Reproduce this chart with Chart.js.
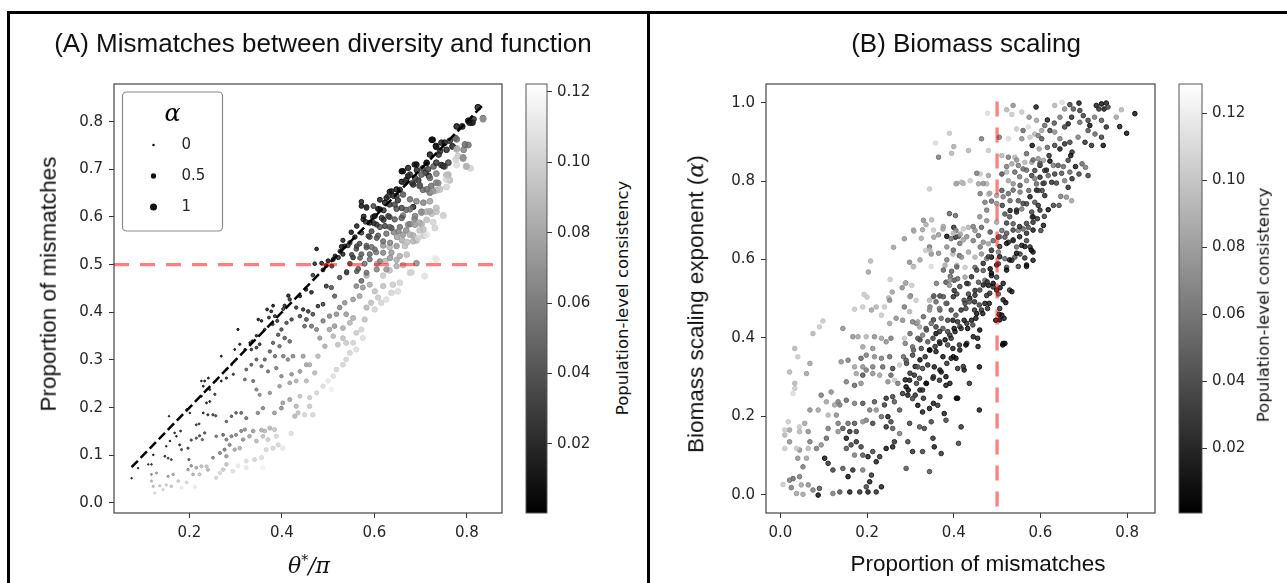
<!DOCTYPE html>
<html>
<head>
<meta charset="utf-8">
<title>Mismatches between diversity and function / Biomass scaling</title>
<style>
  html, body { margin: 0; padding: 0; background: #fff; }
  #fig { position: relative; width: 1287px; height: 583px; overflow: hidden; background: #fff;
         font-family: "Liberation Sans", Arial, sans-serif; color: #111; }
  .rule { position: absolute; background: #000; }
  canvas { position: absolute; top: 0; }
  .txt { position: absolute; white-space: nowrap; line-height: 1; transform: translate(-50%, -50%); }
  .rot { transform: translate(-50%, -50%) rotate(-90deg); }
  .title { font-size: 26px; }
  .axis { font-size: 22.5px; }
  .cbar { font-family: "DejaVu Sans", sans-serif; font-size: 16.5px; }
  .math { font-family: "DejaVu Serif", serif; font-style: italic; }
</style>
</head>
<body>
<div id="fig">
  <div class="rule" style="left:7px;top:11px;width:1280px;height:3px"></div>
  <div class="rule" style="left:7px;top:11px;width:3px;height:572px"></div>
  <div class="rule" style="left:647px;top:11px;width:3px;height:572px"></div>

  <canvas id="chartA" width="510" height="583" style="left:0"></canvas>
  <canvas id="cbarA" width="100" height="583" style="left:510px"></canvas>
  <canvas id="chartB" width="515" height="583" style="left:650px"></canvas>
  <canvas id="cbarB" width="110" height="583" style="left:1160px"></canvas>

  <div class="txt title" style="left:323px;top:43px">(A) Mismatches between diversity and function</div>
  <div class="txt title" style="left:966px;top:43px">(B) Biomass scaling</div>
  <div class="txt axis rot" style="left:49px;top:284px">Proportion of mismatches</div>
  <div class="txt axis math" style="left:309px;top:565px;font-size:22px">θ<sup style="font-size:14px;font-style:normal">*</sup>/π</div>
  <div class="txt cbar rot" style="left:623px;top:298px">Population-level consistency</div>
  <div class="txt axis rot" style="left:696px;top:304px">Biomass scaling exponent (<span class="math">α</span>)</div>
  <div class="txt axis" style="left:978px;top:564px">Proportion of mismatches</div>
  <div class="txt cbar rot" style="left:1264px;top:305px">Population-level consistency</div>
</div>

<script src="https://cdn.jsdelivr.net/npm/chart.js"></script>
<script>
// ---- data ----
// panel A: [theta*/pi, proportion of mismatches, alpha, population-level consistency]
const pointsA = [
  [0.824,0.830,1.0,0.01],[0.835,0.807,1.0,0.05],[0.812,0.798,0.95,0.005],[0.803,0.802,0.9,0.01],[0.778,0.790,0.9,0.005],
  [0.790,0.790,0.95,0.01],[0.775,0.766,0.9,0.04],[0.803,0.751,1.0,0.055],[0.793,0.741,0.95,0.06],[0.778,0.744,0.95,0.08],
  [0.781,0.728,1.0,0.095],[0.792,0.723,1.0,0.06],[0.778,0.709,1.0,0.105],[0.799,0.706,1.0,0.09],[0.808,0.702,1.0,0.1],
  [0.726,0.762,0.9,0.005],[0.745,0.756,0.85,0.01],[0.734,0.747,0.9,0.01],[0.720,0.731,0.85,0.005],[0.739,0.731,0.9,0.02],
  [0.756,0.741,0.9,0.015],[0.769,0.748,0.95,0.01],[0.713,0.713,0.8,0.01],[0.687,0.710,0.8,0.01],[0.692,0.698,0.85,0.015],
  [0.704,0.702,0.85,0.03],[0.711,0.693,0.85,0.02],[0.662,0.696,0.8,0.01],[0.673,0.686,0.8,0.01],[0.659,0.674,0.75,0.005],
  [0.669,0.678,0.8,0.01],[0.682,0.671,0.85,0.03],[0.695,0.677,0.85,0.02],[0.718,0.686,0.9,0.02],[0.728,0.706,0.9,0.04],
  [0.745,0.709,0.9,0.02],[0.752,0.706,0.95,0.05],[0.734,0.691,0.95,0.06],[0.756,0.688,1.0,0.085],[0.763,0.677,1.0,0.09],
  [0.756,0.663,1.0,0.1],[0.738,0.671,0.95,0.065],[0.723,0.665,0.9,0.05],[0.734,0.656,1.0,0.085],[0.720,0.651,0.9,0.055],
  [0.705,0.657,0.9,0.05],[0.698,0.667,0.85,0.04],[0.633,0.653,0.75,0.01],[0.642,0.644,0.75,0.015],[0.655,0.657,0.8,0.01],
  [0.651,0.635,0.8,0.02],[0.626,0.640,0.7,0.01],[0.612,0.636,0.7,0.01],[0.572,0.632,0.6,0.01],[0.583,0.621,0.65,0.015],
  [0.608,0.617,0.7,0.005],[0.620,0.614,0.75,0.02],[0.633,0.626,0.75,0.02],[0.648,0.617,0.8,0.035],[0.669,0.615,0.85,0.045],
  [0.662,0.603,0.85,0.055],[0.684,0.621,0.8,0.015],[0.702,0.611,0.9,0.05],[0.713,0.611,0.95,0.08],[0.724,0.607,0.95,0.09],
  [0.734,0.611,1.0,0.09],[0.749,0.603,1.0,0.1],[0.727,0.589,1.0,0.1],[0.713,0.594,0.95,0.09],[0.702,0.585,0.95,0.085],
  [0.687,0.596,0.9,0.06],[0.677,0.585,0.9,0.06],[0.669,0.572,0.9,0.065],[0.684,0.561,0.95,0.08],[0.698,0.572,0.95,0.09],
  [0.707,0.561,1.0,0.095],[0.691,0.551,0.95,0.085],[0.577,0.601,0.65,0.01],[0.581,0.590,0.65,0.02],[0.597,0.600,0.7,0.02],
  [0.599,0.587,0.7,0.015],[0.620,0.594,0.75,0.02],[0.633,0.600,0.75,0.03],[0.612,0.579,0.75,0.035],[0.633,0.579,0.8,0.05],
  [0.642,0.568,0.85,0.06],[0.655,0.579,0.8,0.05],[0.649,0.558,0.9,0.075],[0.660,0.551,0.9,0.08],[0.671,0.547,0.95,0.09],
  [0.626,0.565,0.8,0.05],[0.608,0.561,0.75,0.04],[0.590,0.558,0.7,0.035],[0.594,0.570,0.7,0.03],[0.550,0.568,0.55,0.005],
  [0.558,0.558,0.55,0.01],[0.532,0.551,0.5,0.01],[0.529,0.538,0.5,0.005],[0.543,0.540,0.55,0.02],[0.568,0.544,0.65,0.03],
  [0.583,0.540,0.7,0.045],[0.561,0.533,0.6,0.03],[0.594,0.537,0.75,0.05],[0.619,0.540,0.85,0.07],[0.633,0.537,0.9,0.085],
  [0.604,0.526,0.75,0.055],[0.590,0.522,0.7,0.045],[0.572,0.522,0.65,0.04],[0.554,0.515,0.6,0.02],[0.532,0.522,0.5,0.01],
  [0.522,0.515,0.5,0.015],[0.511,0.511,0.45,0.01],[0.500,0.508,0.45,0.005],[0.496,0.498,0.4,0.01],[0.475,0.533,0.35,0.005],
  [0.486,0.503,0.4,0.01],[0.489,0.489,0.4,0.015],[0.471,0.502,0.35,0.01],[0.467,0.478,0.35,0.02],[0.547,0.502,0.6,0.03],
  [0.579,0.502,0.7,0.05],[0.565,0.491,0.65,0.04],[0.606,0.502,0.8,0.08],[0.624,0.508,0.85,0.085],[0.633,0.488,0.9,0.09],
  [0.619,0.477,0.85,0.095],[0.583,0.477,0.8,0.08],[0.680,0.484,0.95,0.1],[0.731,0.514,1.0,0.115],[0.709,0.476,1.0,0.105],
  [0.662,0.499,0.9,0.09],[0.691,0.503,0.9,0.065],[0.648,0.510,0.85,0.08],[0.525,0.473,0.55,0.035],[0.540,0.485,0.55,0.03],
  [0.572,0.466,0.65,0.045],
  [0.724,0.762,0.9,0.005],[0.733,0.749,0.9,0.01],[0.742,0.738,0.9,0.02],[0.752,0.756,0.9,0.01],[0.763,0.760,0.9,0.02],
  [0.778,0.763,0.95,0.05],[0.796,0.752,1.0,0.05],[0.778,0.742,1.0,0.085],[0.792,0.725,1.0,0.07],[0.799,0.706,1.0,0.085],
  [0.776,0.721,1.0,0.1],[0.760,0.714,0.95,0.03],[0.749,0.707,0.95,0.02],[0.734,0.714,0.9,0.02],[0.716,0.700,0.9,0.03],
  [0.713,0.714,0.85,0.01],[0.691,0.710,0.85,0.005],[0.673,0.703,0.8,0.01],[0.659,0.696,0.8,0.005],[0.677,0.689,0.85,0.02],
  [0.688,0.682,0.85,0.03],[0.702,0.689,0.9,0.04],[0.720,0.682,0.9,0.05],[0.734,0.672,0.95,0.06],[0.756,0.679,1.0,0.1],
  [0.760,0.689,1.0,0.09],[0.742,0.658,1.0,0.09],[0.727,0.654,0.95,0.07],[0.713,0.658,0.9,0.05],[0.698,0.665,0.9,0.04],
  [0.684,0.668,0.85,0.02],[0.666,0.672,0.85,0.02],[0.648,0.658,0.8,0.005],[0.637,0.654,0.75,0.01],[0.630,0.644,0.75,0.02],
  [0.648,0.644,0.8,0.03],[0.662,0.647,0.85,0.04],[0.677,0.637,0.85,0.05],[0.691,0.633,0.9,0.06],[0.706,0.630,0.9,0.06],
  [0.720,0.633,0.95,0.075],[0.734,0.619,1.0,0.09],[0.749,0.603,1.0,0.1],[0.720,0.612,0.95,0.08],[0.702,0.609,0.9,0.07],
  [0.688,0.602,0.9,0.06],[0.677,0.616,0.85,0.05],[0.659,0.619,0.8,0.03],[0.644,0.626,0.8,0.03],[0.623,0.630,0.75,0.01],
  [0.612,0.616,0.7,0.01],[0.601,0.602,0.7,0.005],[0.616,0.598,0.75,0.02],[0.630,0.602,0.75,0.03],[0.644,0.595,0.8,0.04],
  [0.659,0.598,0.85,0.04],[0.673,0.584,0.85,0.06],[0.688,0.584,0.9,0.07],[0.698,0.588,0.9,0.08],[0.677,0.563,0.9,0.08],
  [0.662,0.563,0.85,0.07],[0.652,0.570,0.85,0.06],[0.637,0.577,0.8,0.04],[0.623,0.581,0.75,0.03],[0.605,0.584,0.7,0.02],
  [0.590,0.588,0.7,0.01],[0.576,0.595,0.65,0.01],[0.572,0.623,0.6,0.005],[0.583,0.619,0.65,0.02],[0.598,0.623,0.7,0.03],
  [0.562,0.581,0.6,0.01],[0.572,0.567,0.6,0.02],[0.587,0.560,0.65,0.03],[0.605,0.556,0.7,0.04],[0.619,0.549,0.75,0.05],
  [0.634,0.546,0.8,0.06],[0.648,0.539,0.85,0.07],[0.666,0.539,0.9,0.09],[0.684,0.549,0.9,0.085],[0.670,0.521,0.9,0.09],
  [0.655,0.518,0.85,0.08],[0.637,0.525,0.8,0.07],[0.619,0.525,0.75,0.06],[0.601,0.532,0.7,0.05],[0.583,0.536,0.65,0.04],
  [0.562,0.539,0.6,0.03],[0.547,0.546,0.55,0.02],[0.536,0.539,0.5,0.01],[0.526,0.528,0.5,0.01],[0.551,0.521,0.55,0.03],
  [0.569,0.514,0.6,0.04],[0.590,0.511,0.7,0.05],[0.612,0.507,0.75,0.06],[0.634,0.514,0.8,0.07],[0.648,0.497,0.85,0.08],
  [0.677,0.483,0.9,0.1],[0.626,0.490,0.8,0.07],[0.605,0.490,0.75,0.06],[0.583,0.483,0.7,0.05],[0.562,0.486,0.6,0.04],
  [0.540,0.483,0.55,0.03],[0.515,0.518,0.45,0.01],[0.508,0.497,0.45,0.02],[0.695,0.556,0.95,0.1],[0.713,0.563,1.0,0.11],
  [0.706,0.574,0.95,0.09],[0.731,0.577,1.0,0.1],[0.734,0.511,1.0,0.11],[0.709,0.476,1.0,0.11],[0.814,0.805,1.0,0.02],
  [0.835,0.805,1.0,0.07],[0.806,0.798,1.0,0.01],
  [0.452,0.448,0.35,0.01],[0.464,0.442,0.35,0.01],[0.439,0.434,0.3,0.01],[0.414,0.435,0.3,0.005],[0.417,0.427,0.3,0.015],
  [0.406,0.414,0.25,0.01],[0.403,0.407,0.25,0.02],[0.381,0.414,0.2,0.005],[0.377,0.402,0.2,0.01],[0.368,0.406,0.2,0.01],
  [0.372,0.389,0.2,0.015],[0.385,0.392,0.25,0.02],[0.390,0.382,0.25,0.02],[0.380,0.375,0.2,0.015],[0.356,0.382,0.15,0.01],
  [0.349,0.385,0.15,0.005],[0.363,0.364,0.15,0.01],[0.345,0.351,0.15,0.01],[0.336,0.340,0.1,0.01],[0.331,0.336,0.1,0.005],
  [0.352,0.333,0.2,0.02],[0.345,0.326,0.2,0.02],[0.334,0.322,0.15,0.015],[0.305,0.364,0.1,0.005],[0.309,0.333,0.1,0.01],
  [0.320,0.322,0.1,0.015],[0.298,0.322,0.05,0.005],[0.291,0.290,0.05,0.01],[0.280,0.280,0.05,0.01],[0.269,0.308,0.05,0.005],
  [0.295,0.270,0.1,0.02],[0.280,0.262,0.1,0.015],[0.269,0.256,0.05,0.01],[0.241,0.262,0.05,0.005],[0.233,0.256,0.05,0.01],
  [0.230,0.245,0.05,0.01],[0.244,0.238,0.05,0.015],[0.255,0.228,0.1,0.02],[0.226,0.224,0.05,0.01],
  [0.496,0.455,0.45,0.02],[0.507,0.452,0.5,0.035],[0.514,0.434,0.5,0.04],[0.489,0.417,0.4,0.025],[0.478,0.413,0.35,0.02],
  [0.457,0.402,0.35,0.02],[0.446,0.406,0.3,0.015],[0.431,0.410,0.3,0.02],[0.439,0.392,0.35,0.03],[0.453,0.385,0.4,0.035],
  [0.467,0.396,0.4,0.03],[0.421,0.385,0.3,0.025],[0.410,0.378,0.3,0.03],[0.399,0.364,0.3,0.03],[0.392,0.353,0.3,0.035],
  [0.406,0.346,0.35,0.04],[0.417,0.339,0.35,0.045],[0.381,0.336,0.3,0.04],[0.395,0.329,0.3,0.045],[0.374,0.318,0.3,0.04],
  [0.385,0.308,0.3,0.05],[0.403,0.308,0.35,0.055],[0.413,0.301,0.35,0.06],[0.424,0.308,0.4,0.06],[0.446,0.308,0.45,0.07],
  [0.453,0.290,0.45,0.075],[0.439,0.276,0.4,0.07],[0.421,0.270,0.35,0.065],[0.399,0.266,0.3,0.06],[0.388,0.283,0.3,0.055],
  [0.370,0.276,0.25,0.05],[0.356,0.287,0.25,0.045],[0.363,0.301,0.25,0.04],[0.345,0.301,0.2,0.035],[0.334,0.290,0.2,0.035],
  [0.323,0.280,0.2,0.04],[0.320,0.259,0.2,0.045],[0.338,0.256,0.25,0.05],[0.345,0.238,0.25,0.055],[0.352,0.227,0.25,0.06],
  [0.374,0.231,0.3,0.065],[0.395,0.245,0.35,0.07],[0.417,0.252,0.4,0.075],[0.431,0.256,0.4,0.08],[0.453,0.256,0.45,0.085],
  [0.471,0.273,0.5,0.085],[0.460,0.290,0.5,0.08],[0.478,0.308,0.55,0.085],[0.493,0.329,0.55,0.08],[0.482,0.346,0.5,0.07],
  [0.503,0.364,0.6,0.075],[0.514,0.371,0.6,0.07],[0.475,0.364,0.45,0.06],[0.464,0.371,0.45,0.05],[0.449,0.371,0.4,0.045],
  [0.489,0.382,0.5,0.055],[0.503,0.392,0.55,0.06],[0.518,0.396,0.6,0.065],[0.511,0.350,0.6,0.085],[0.521,0.332,0.65,0.09],
  [0.532,0.346,0.65,0.09],[0.539,0.336,0.7,0.095],[0.532,0.367,0.65,0.08],[0.547,0.378,0.7,0.085],[0.554,0.388,0.7,0.08],
  [0.539,0.396,0.65,0.07],[0.525,0.410,0.6,0.06],[0.536,0.420,0.6,0.065],[0.554,0.427,0.65,0.07],[0.568,0.434,0.7,0.075],
  [0.575,0.452,0.7,0.07],[0.561,0.455,0.65,0.06],[0.590,0.458,0.75,0.08],[0.601,0.444,0.8,0.09],[0.608,0.431,0.8,0.095],
  [0.593,0.420,0.75,0.09],[0.583,0.410,0.75,0.085],[0.601,0.406,0.8,0.1],[0.615,0.420,0.85,0.1],[0.626,0.427,0.85,0.105],
  [0.637,0.441,0.9,0.1],[0.651,0.444,0.9,0.105],[0.655,0.462,0.9,0.1],[0.640,0.458,0.85,0.095],[0.619,0.455,0.8,0.09],
  [0.579,0.385,0.75,0.09],[0.572,0.364,0.75,0.1],[0.561,0.357,0.7,0.095],[0.575,0.346,0.75,0.105],[0.554,0.336,0.7,0.1],
  [0.561,0.322,0.75,0.105],[0.547,0.315,0.7,0.1],[0.539,0.301,0.65,0.1],[0.532,0.290,0.65,0.1],[0.518,0.280,0.6,0.1],
  [0.511,0.266,0.6,0.105],[0.500,0.256,0.6,0.11],[0.507,0.238,0.6,0.115],[0.489,0.245,0.55,0.105],[0.475,0.231,0.5,0.1],
  [0.460,0.221,0.5,0.095],[0.439,0.224,0.45,0.09],
  [0.075,0.052,0.0,0.01],[0.089,0.073,0.0,0.01],[0.122,0.101,0.02,0.01],[0.111,0.081,0.0,0.015],[0.118,0.081,0.02,0.02],
  [0.147,0.098,0.05,0.02],[0.154,0.094,0.05,0.03],[0.161,0.091,0.05,0.025],[0.150,0.119,0.02,0.015],[0.158,0.130,0.02,0.01],
  [0.172,0.140,0.02,0.005],[0.168,0.147,0.02,0.01],[0.156,0.182,0.0,0.005],[0.181,0.151,0.05,0.02],[0.183,0.112,0.08,0.03],
  [0.179,0.122,0.08,0.025],[0.197,0.115,0.1,0.03],[0.199,0.091,0.1,0.04],[0.204,0.132,0.1,0.03],[0.215,0.136,0.1,0.035],
  [0.222,0.141,0.1,0.03],[0.228,0.133,0.12,0.04],[0.233,0.147,0.12,0.035],[0.215,0.164,0.05,0.02],[0.221,0.166,0.05,0.025],
  [0.201,0.189,0.02,0.01],[0.194,0.196,0.02,0.005],[0.230,0.189,0.05,0.015],[0.240,0.185,0.08,0.02],[0.251,0.185,0.1,0.025],
  [0.257,0.183,0.1,0.03],[0.237,0.210,0.05,0.01],[0.244,0.213,0.05,0.015],[0.226,0.256,0.02,0.005],
  [0.118,0.060,0.05,0.06],[0.129,0.063,0.08,0.07],[0.118,0.046,0.08,0.08],[0.122,0.035,0.1,0.085],[0.125,0.021,0.1,0.1],
  [0.136,0.036,0.1,0.09],[0.143,0.028,0.12,0.1],[0.150,0.038,0.12,0.095],[0.161,0.035,0.15,0.09],[0.154,0.056,0.1,0.07],
  [0.165,0.060,0.15,0.075],[0.176,0.046,0.2,0.095],[0.183,0.032,0.2,0.11],[0.194,0.043,0.2,0.1],[0.212,0.034,0.25,0.11],
  [0.197,0.070,0.15,0.07],[0.204,0.078,0.15,0.065],[0.215,0.074,0.2,0.075],[0.208,0.060,0.2,0.08],[0.226,0.077,0.25,0.085],
  [0.237,0.077,0.25,0.09],[0.240,0.070,0.3,0.085],[0.222,0.060,0.25,0.09],[0.258,0.053,0.3,0.1],[0.266,0.063,0.3,0.1],
  [0.273,0.070,0.35,0.095],[0.280,0.081,0.35,0.09],[0.294,0.067,0.4,0.105],[0.305,0.078,0.4,0.11],[0.323,0.074,0.45,0.11],
  [0.323,0.088,0.45,0.105],[0.341,0.091,0.45,0.1],[0.359,0.074,0.5,0.115],[0.356,0.095,0.5,0.105],[0.251,0.095,0.2,0.06],
  [0.266,0.105,0.25,0.06],[0.276,0.112,0.25,0.055],[0.280,0.098,0.3,0.07],[0.287,0.122,0.25,0.06],[0.298,0.112,0.3,0.075],
  [0.309,0.115,0.35,0.08],[0.316,0.133,0.3,0.065],[0.258,0.140,0.15,0.05],[0.273,0.143,0.2,0.045],[0.280,0.133,0.2,0.05],
  [0.291,0.140,0.25,0.055],[0.301,0.143,0.25,0.06],[0.312,0.151,0.25,0.06],[0.320,0.154,0.3,0.065],[0.330,0.140,0.35,0.075],
  [0.338,0.151,0.35,0.07],[0.356,0.153,0.4,0.08],[0.363,0.151,0.4,0.085],[0.374,0.157,0.45,0.085],[0.384,0.154,0.45,0.09],
  [0.370,0.133,0.45,0.095],[0.381,0.115,0.5,0.1],[0.392,0.122,0.5,0.1],[0.402,0.115,0.55,0.11],[0.420,0.146,0.55,0.105],
  [0.388,0.140,0.45,0.1],[0.366,0.112,0.45,0.1],[0.359,0.140,0.4,0.09],[0.345,0.130,0.4,0.085],[0.280,0.171,0.15,0.04],
  [0.291,0.182,0.15,0.035],[0.301,0.189,0.15,0.04],[0.312,0.189,0.2,0.045],[0.323,0.178,0.25,0.05],[0.348,0.189,0.3,0.06],
  [0.359,0.199,0.3,0.06],[0.384,0.189,0.4,0.07],[0.428,0.182,0.5,0.085],[0.435,0.189,0.5,0.09],[0.431,0.203,0.5,0.085],
  [0.449,0.185,0.55,0.1],[0.467,0.185,0.55,0.1],[0.460,0.203,0.55,0.095],[0.402,0.210,0.4,0.07],[0.399,0.199,0.4,0.065],
  [0.417,0.217,0.45,0.075]
];

// panel B: [proportion of mismatches, biomass scaling exponent alpha, population-level consistency]
const pointsB = [
  [0.390,0.922,0.1],[0.358,0.897,0.11],[0.400,0.888,0.085],[0.395,0.871,0.09],[0.365,0.861,0.06],[0.405,0.793,0.09],
  [0.344,0.780,0.1],[0.390,0.717,0.045],[0.404,0.712,0.05],[0.349,0.701,0.09],[0.336,0.689,0.085],[0.328,0.676,0.08],
  [0.308,0.672,0.09],[0.286,0.653,0.075],[0.325,0.654,0.085],[0.354,0.657,0.08],[0.365,0.663,0.075],[0.375,0.678,0.08],
  [0.400,0.682,0.02],[0.384,0.659,0.005],[0.405,0.674,0.06],[0.404,0.657,0.02],[0.411,0.659,0.04],[0.394,0.653,0.055],
  [0.261,0.631,0.08],[0.344,0.632,0.06],[0.335,0.623,0.1],[0.348,0.614,0.07],[0.365,0.616,0.07],[0.398,0.614,0.09],
  [0.413,0.610,0.05],[0.208,0.596,0.09],[0.203,0.568,0.08],[0.298,0.593,0.07],[0.307,0.582,0.06],[0.348,0.582,0.11],
  [0.380,0.585,0.085],[0.395,0.570,0.045],[0.407,0.585,0.09],[0.392,0.557,0.05],[0.382,0.542,0.04],[0.401,0.547,0.04],
  [0.409,0.551,0.05],[0.401,0.521,0.02],[0.390,0.534,0.07],[0.253,0.549,0.1],[0.303,0.534,0.1],[0.289,0.540,0.05],
  [0.281,0.528,0.07],[0.258,0.517,0.08],[0.300,0.507,0.045],[0.354,0.507,0.03],[0.368,0.507,0.03],[0.193,0.511,0.1],
  [0.200,0.504,0.1],[0.250,0.502,0.09],
  [0.650,1.001,0.11],[0.668,0.995,0.03],[0.689,0.999,0.01],[0.676,0.984,0.04],[0.691,0.980,0.03],[0.656,0.984,0.07],
  [0.633,0.993,0.09],[0.729,0.993,0.01],[0.741,0.997,0.005],[0.752,0.999,0.01],[0.747,0.984,0.01],[0.735,0.984,0.02],
  [0.756,0.989,0.03],[0.787,0.982,0.09],[0.818,0.972,0.005],[0.775,0.963,0.08],[0.799,0.922,0.005],[0.783,0.939,0.01],
  [0.752,0.938,0.02],[0.741,0.955,0.04],[0.725,0.963,0.06],[0.710,0.955,0.03],[0.714,0.942,0.005],[0.699,0.967,0.03],
  [0.691,0.950,0.05],[0.672,0.963,0.02],[0.664,0.946,0.01],[0.656,0.938,0.03],[0.645,0.963,0.06],[0.632,0.948,0.04],
  [0.616,0.956,0.01],[0.610,0.942,0.05],[0.622,0.929,0.03],[0.633,0.925,0.07],[0.645,0.908,0.06],[0.656,0.895,0.02],
  [0.668,0.899,0.03],[0.687,0.912,0.06],[0.703,0.899,0.02],[0.718,0.891,0.02],[0.741,0.912,0.03],[0.726,0.920,0.05],
  [0.710,0.929,0.04],[0.745,0.891,0.005],[0.590,0.989,0.01],[0.574,0.963,0.07],[0.557,0.976,0.1],[0.537,0.993,0.07],
  [0.522,0.982,0.09],[0.534,0.970,0.1],[0.478,0.973,0.11],[0.591,0.955,0.08],[0.572,0.938,0.11],[0.587,0.920,0.09],
  [0.603,0.929,0.08],[0.545,0.933,0.1],[0.560,0.929,0.05],[0.557,0.908,0.07],[0.576,0.912,0.1],[0.595,0.916,0.06],
  [0.603,0.908,0.04],[0.581,0.891,0.005],[0.597,0.882,0.08],[0.616,0.886,0.05],[0.633,0.891,0.03],[0.620,0.865,0.02],
  [0.645,0.882,0.01],[0.673,0.874,0.02],[0.670,0.865,0.005],[0.664,0.853,0.03],[0.526,0.908,0.11],[0.505,0.912,0.06],
  [0.480,0.878,0.1],[0.464,0.908,0.06],[0.434,0.878,0.09],[0.511,0.865,0.09],[0.526,0.861,0.06],[0.541,0.861,0.09],
  [0.568,0.870,0.05],[0.564,0.848,0.09],[0.580,0.848,0.08],[0.595,0.857,0.07],[0.607,0.853,0.08],[0.622,0.851,0.005],
  [0.630,0.840,0.06],[0.641,0.840,0.04],[0.653,0.837,0.05],[0.599,0.840,0.02],[0.610,0.827,0.03],[0.587,0.827,0.03],
  [0.560,0.831,0.05],[0.549,0.840,0.06],[0.534,0.844,0.08],[0.522,0.823,0.09],[0.511,0.818,0.04],[0.541,0.823,0.05],
  [0.580,0.814,0.03],[0.599,0.810,0.02],[0.618,0.814,0.05],[0.633,0.818,0.03],[0.649,0.820,0.04],[0.668,0.823,0.05],
  [0.681,0.837,0.01],[0.696,0.844,0.05],[0.704,0.835,0.06],[0.689,0.818,0.03],[0.710,0.814,0.03],[0.673,0.806,0.02],
  [0.656,0.801,0.06],[0.637,0.795,0.03],[0.626,0.797,0.02],[0.609,0.795,0.04],[0.587,0.806,0.06],[0.591,0.793,0.05],
  [0.568,0.801,0.07],[0.553,0.789,0.04],[0.537,0.793,0.07],[0.526,0.801,0.08],[0.461,0.818,0.1],[0.457,0.793,0.08],
  [0.418,0.797,0.09],[0.438,0.801,0.1],[0.476,0.793,0.09],[0.480,0.814,0.08],[0.461,0.768,0.06],[0.480,0.766,0.1],
  [0.499,0.763,0.08],[0.511,0.776,0.04],[0.526,0.768,0.05],[0.553,0.772,0.06],[0.573,0.776,0.05],[0.595,0.776,0.04],
  [0.604,0.776,0.03],[0.610,0.763,0.02],[0.647,0.761,0.06],[0.660,0.759,0.07],[0.672,0.750,0.08],[0.664,0.784,0.02],
  [0.472,0.746,0.06],[0.487,0.749,0.05],[0.512,0.738,0.03],[0.530,0.750,0.05],[0.549,0.750,0.04],[0.568,0.742,0.03],
  [0.587,0.746,0.04],[0.595,0.738,0.02],[0.618,0.727,0.005],[0.630,0.738,0.03],[0.643,0.738,0.04],[0.557,0.729,0.06],
  [0.545,0.721,0.02],[0.530,0.725,0.01],[0.518,0.716,0.04],[0.580,0.721,0.03],[0.581,0.708,0.05],[0.593,0.704,0.02],
  [0.609,0.710,0.03],[0.607,0.687,0.01],[0.601,0.674,0.03],[0.583,0.695,0.02],[0.572,0.682,0.04],[0.560,0.678,0.05],
  [0.549,0.674,0.06],[0.537,0.691,0.04],[0.522,0.693,0.03],[0.511,0.674,0.05],[0.499,0.695,0.08],[0.476,0.699,0.07],
  [0.484,0.670,0.04],[0.464,0.682,0.05],[0.449,0.674,0.07],[0.434,0.682,0.09],[0.422,0.678,0.1],[0.415,0.665,0.08],
  [0.457,0.661,0.05],[0.445,0.648,0.06],[0.468,0.644,0.07],[0.461,0.632,0.06],[0.480,0.640,0.08],[0.491,0.648,0.05],
  [0.503,0.657,0.03],[0.518,0.657,0.04],[0.526,0.644,0.02],[0.537,0.648,0.03],[0.545,0.632,0.05],[0.557,0.636,0.01],
  [0.568,0.648,0.03],[0.576,0.632,0.02],[0.583,0.619,0.01],[0.553,0.614,0.03],[0.564,0.604,0.02],[0.541,0.606,0.04],
  [0.534,0.598,0.02],[0.518,0.602,0.05],[0.503,0.619,0.06],[0.487,0.623,0.02],[0.503,0.589,0.03],[0.487,0.606,0.005],
  [0.476,0.602,0.06],[0.464,0.614,0.07],[0.449,0.606,0.09],[0.434,0.619,0.08],[0.418,0.606,0.07],[0.426,0.580,0.1],
  [0.449,0.580,0.05],[0.468,0.572,0.04],[0.484,0.576,0.005],[0.522,0.580,0.04],[0.549,0.582,0.03],[0.568,0.582,0.02],
  [0.487,0.559,0.01],[0.499,0.555,0.03],[0.472,0.547,0.05],[0.457,0.542,0.04],[0.434,0.538,0.05],[0.426,0.555,0.08],
  [0.480,0.534,0.01],[0.491,0.530,0.02],[0.507,0.528,0.01],[0.449,0.521,0.02],[0.434,0.512,0.03],[0.476,0.508,0.02],
  [0.503,0.512,0.04],[0.407,0.512,0.03],
  [0.506,0.607,0.01],[0.499,0.586,0.02],[0.487,0.565,0.005],[0.477,0.543,0.02],[0.468,0.535,0.01],[0.460,0.522,0.03],
  [0.449,0.509,0.02],[0.437,0.501,0.01],[0.426,0.488,0.03],[0.491,0.539,0.005],[0.499,0.522,0.01],[0.483,0.514,0.02],
  [0.472,0.488,0.01],[0.464,0.471,0.02],[0.453,0.462,0.005],[0.441,0.445,0.01],[0.430,0.437,0.02],[0.414,0.429,0.03],
  [0.403,0.416,0.01],[0.391,0.407,0.02],[0.380,0.395,0.005],[0.368,0.386,0.01],[0.357,0.378,0.02],[0.345,0.369,0.01],
  [0.334,0.352,0.02],[0.322,0.344,0.005],[0.311,0.327,0.01],[0.299,0.310,0.02],[0.288,0.293,0.01],[0.295,0.267,0.005],
  [0.311,0.254,0.02],[0.322,0.267,0.01],[0.337,0.284,0.005],[0.353,0.301,0.02],[0.368,0.318,0.01],[0.384,0.335,0.02],
  [0.399,0.352,0.005],[0.414,0.369,0.01],[0.430,0.386,0.02],[0.445,0.403,0.01],[0.460,0.420,0.005],[0.506,0.446,0.005],
  [0.514,0.386,0.01],[0.456,0.378,0.01],[0.422,0.327,0.02],[0.391,0.284,0.01],[0.368,0.250,0.02],[0.406,0.246,0.005],
  [0.353,0.233,0.01],[0.330,0.246,0.02],[0.314,0.284,0.03],[0.291,0.335,0.03],[0.307,0.369,0.04],[0.322,0.395,0.03],
  [0.337,0.420,0.04],[0.353,0.446,0.03],[0.368,0.471,0.04],[0.384,0.488,0.03],[0.399,0.505,0.02],[0.414,0.531,0.03],
  [0.430,0.539,0.02],[0.441,0.556,0.02],[0.453,0.573,0.03],[0.468,0.590,0.02],[0.480,0.607,0.03],[0.487,0.624,0.04],
  [0.506,0.633,0.02],[0.522,0.641,0.01],[0.537,0.650,0.02],[0.552,0.658,0.01],[0.568,0.667,0.02],[0.583,0.675,0.01],
  [0.545,0.616,0.005],[0.564,0.633,0.01],[0.579,0.624,0.005],[0.568,0.586,0.005],[0.583,0.598,0.01],[0.529,0.599,0.01],
  [0.522,0.573,0.005],[0.514,0.539,0.01],[0.529,0.522,0.02],[0.514,0.497,0.01],[0.599,0.726,0.02],[0.583,0.709,0.01],
  [0.568,0.692,0.03],[0.552,0.684,0.02],[0.537,0.675,0.03],[0.522,0.667,0.04],[0.506,0.658,0.05],[0.529,0.709,0.04],
  [0.545,0.726,0.02],[0.560,0.743,0.03],[0.576,0.760,0.01],[0.591,0.777,0.02],[0.606,0.794,0.03],[0.614,0.828,0.02],
  [0.599,0.845,0.04],[0.583,0.854,0.05],[0.568,0.828,0.05],[0.552,0.811,0.06],[0.537,0.777,0.05],[0.514,0.760,0.06],
  [0.499,0.743,0.07],[0.476,0.726,0.06],[0.460,0.709,0.07],[0.445,0.684,0.06],[0.430,0.658,0.07],[0.414,0.641,0.06],
  [0.399,0.624,0.05],[0.384,0.599,0.06],[0.376,0.573,0.05],[0.360,0.539,0.06],[0.353,0.505,0.05],[0.376,0.505,0.04],
  [0.345,0.479,0.06],[0.330,0.454,0.05],[0.314,0.437,0.06],[0.299,0.411,0.05],[0.288,0.386,0.06],[0.284,0.352,0.05],
  [0.307,0.675,0.08],[0.330,0.700,0.07],[0.353,0.675,0.1],[0.376,0.684,0.08],[0.399,0.667,0.09],[0.422,0.650,0.08],
  [0.345,0.624,0.09],[0.322,0.599,0.08],[0.307,0.581,0.1],[0.288,0.539,0.09],[0.299,0.505,0.08],[0.391,0.547,0.07],
  [0.407,0.581,0.05],[0.384,0.632,0.07],[0.468,0.794,0.07],[0.483,0.769,0.08],[0.522,0.837,0.06],[0.545,0.854,0.07],
  [0.407,0.794,0.08],[0.422,0.794,0.09],[0.453,0.820,0.06],
  [0.497,0.445,0.005],[0.513,0.382,0.005],[0.511,0.458,0.01],[0.478,0.475,0.02],[0.467,0.462,0.01],[0.459,0.484,0.03],
  [0.448,0.471,0.02],[0.451,0.450,0.01],[0.436,0.492,0.04],[0.428,0.475,0.03],[0.417,0.471,0.02],[0.405,0.458,0.04],
  [0.424,0.445,0.01],[0.444,0.433,0.03],[0.432,0.424,0.005],[0.417,0.424,0.02],[0.401,0.424,0.005],[0.386,0.416,0.03],
  [0.375,0.424,0.04],[0.394,0.399,0.02],[0.455,0.399,0.01],[0.428,0.382,0.005],[0.413,0.382,0.02],[0.398,0.373,0.01],
  [0.405,0.348,0.005],[0.386,0.382,0.03],[0.367,0.390,0.02],[0.352,0.399,0.03],[0.359,0.411,0.005],[0.340,0.390,0.04],
  [0.325,0.373,0.03],[0.344,0.369,0.005],[0.359,0.365,0.01],[0.375,0.352,0.005],[0.394,0.348,0.01],[0.459,0.326,0.005],
  [0.424,0.318,0.01],[0.409,0.322,0.02],[0.436,0.284,0.02],[0.409,0.246,0.005],[0.459,0.216,0.01],[0.417,0.173,0.02],
  [0.411,0.131,0.03],[0.382,0.301,0.005],[0.371,0.313,0.01],[0.382,0.279,0.01],[0.367,0.292,0.02],[0.355,0.326,0.01],
  [0.340,0.331,0.02],[0.328,0.322,0.03],[0.317,0.326,0.04],[0.309,0.305,0.02],[0.321,0.297,0.03],[0.336,0.284,0.01],
  [0.352,0.297,0.02],[0.328,0.267,0.02],[0.298,0.292,0.01],[0.290,0.275,0.005],[0.294,0.254,0.01],[0.282,0.258,0.02],
  [0.305,0.245,0.03],[0.317,0.228,0.005],[0.328,0.211,0.01],[0.344,0.220,0.01],[0.363,0.228,0.02],[0.378,0.207,0.01],
  [0.382,0.190,0.03],[0.348,0.186,0.03],[0.321,0.173,0.04],[0.298,0.182,0.03],[0.275,0.216,0.04],[0.263,0.237,0.04],
  [0.259,0.250,0.03],[0.244,0.246,0.02],[0.240,0.229,0.03],[0.248,0.199,0.01],[0.255,0.186,0.03],[0.259,0.169,0.04],
  [0.244,0.173,0.02],[0.275,0.156,0.06],[0.294,0.135,0.03],[0.332,0.169,0.03],[0.352,0.144,0.02],[0.355,0.122,0.01],
  [0.371,0.105,0.02],[0.344,0.059,0.04],[0.328,0.110,0.03],[0.305,0.110,0.02],[0.290,0.067,0.04],[0.259,0.122,0.01],
  [0.263,0.135,0.02],[0.244,0.118,0.005],[0.229,0.097,0.02],[0.213,0.110,0.03],[0.221,0.084,0.01],[0.202,0.097,0.01],
  [0.190,0.101,0.04],[0.171,0.101,0.06],[0.186,0.122,0.03],[0.175,0.135,0.02],[0.163,0.127,0.03],[0.152,0.118,0.04],
  [0.152,0.144,0.01],[0.160,0.161,0.02],[0.175,0.161,0.03],[0.171,0.182,0.04],[0.156,0.182,0.05],[0.144,0.169,0.04],
  [0.133,0.182,0.06],[0.133,0.161,0.07],[0.110,0.169,0.06],[0.106,0.144,0.05],[0.094,0.127,0.07],[0.102,0.093,0.005],
  [0.110,0.080,0.02],[0.121,0.063,0.03],[0.144,0.067,0.04],[0.156,0.046,0.005],[0.167,0.063,0.02],[0.190,0.063,0.06],
  [0.210,0.050,0.02],[0.206,0.033,0.01],[0.198,0.020,0.03],[0.233,0.020,0.01],[0.221,0.007,0.02],[0.202,0.007,0.01],
  [0.183,0.007,0.02],[0.160,0.007,0.01],[0.137,0.007,0.04],[0.121,0.003,0.06],[0.087,-0.001,0.005],[0.090,0.016,0.04],
  [0.075,0.012,0.06],[0.064,0.025,0.07],[0.052,0.001,0.08],[0.037,0.003,0.08],[0.048,0.025,0.08],[0.025,0.018,0.06],
  [0.006,0.026,0.1],[0.029,0.041,0.05],[0.044,0.046,0.06],[0.021,0.037,0.06],[0.052,0.071,0.06],[0.040,0.093,0.07],
  [0.060,0.093,0.08],[0.044,0.114,0.07],[0.037,0.118,0.1],[0.010,0.118,0.1],[0.021,0.135,0.07],[0.010,0.152,0.09],
  [0.021,0.165,0.08],[0.044,0.173,0.1],[0.056,0.182,0.08],[0.044,0.161,0.09],[0.064,0.161,0.07],[0.068,0.135,0.06],
  [0.083,0.118,0.06],[0.064,0.118,0.09],[0.018,0.186,0.1],[0.010,0.165,0.1],[0.068,0.216,0.07],[0.087,0.216,0.08],
  [0.110,0.203,0.09],[0.129,0.203,0.07],[0.125,0.229,0.08],[0.137,0.229,0.06],[0.152,0.241,0.05],[0.171,0.233,0.06],
  [0.190,0.233,0.04],[0.217,0.237,0.04],[0.221,0.216,0.07],[0.206,0.216,0.06],[0.233,0.199,0.05],[0.213,0.182,0.03],
  [0.198,0.190,0.06],[0.190,0.186,0.07],[0.106,0.237,0.08],[0.094,0.254,0.06],[0.117,0.262,0.07],[0.133,0.237,0.06],
  [0.152,0.288,0.06],[0.171,0.279,0.05],[0.186,0.284,0.07],[0.190,0.305,0.04],[0.175,0.309,0.08],[0.198,0.318,0.06],
  [0.213,0.309,0.07],[0.229,0.305,0.08],[0.255,0.305,0.05],[0.263,0.292,0.1],[0.271,0.284,0.06],[0.248,0.288,0.07],
  [0.259,0.322,0.03],[0.275,0.331,0.1],[0.290,0.343,0.04],[0.305,0.356,0.03],[0.236,0.326,0.05],[0.213,0.326,0.06],
  [0.190,0.326,0.07],[0.171,0.326,0.08],[0.156,0.343,0.06],[0.140,0.339,0.07],[0.068,0.335,0.08],[0.060,0.309,0.08],
  [0.033,0.284,0.09],[0.033,0.271,0.1],[0.029,0.258,0.11],[0.021,0.313,0.09],[0.040,0.352,0.1],[0.033,0.373,0.09],
  [0.075,0.411,0.09],[0.090,0.428,0.1],[0.098,0.443,0.1],[0.144,0.424,0.07],[0.167,0.403,0.07],[0.179,0.403,0.08],
  [0.198,0.403,0.09],[0.217,0.403,0.07],[0.233,0.399,0.08],[0.244,0.390,0.07],[0.255,0.399,0.06],[0.252,0.352,0.05],
  [0.233,0.348,0.06],[0.217,0.352,0.07],[0.198,0.356,0.06],[0.186,0.348,0.05],[0.213,0.373,0.07],[0.190,0.377,0.08],
  [0.286,0.399,0.1],[0.305,0.377,0.05],[0.317,0.399,0.04],[0.328,0.407,0.06],[0.336,0.424,0.04],[0.348,0.437,0.05],
  [0.359,0.428,0.03],[0.367,0.416,0.02],[0.321,0.428,0.08],[0.305,0.441,0.06],[0.282,0.445,0.07],[0.267,0.450,0.07],
  [0.252,0.437,0.08],[0.233,0.458,0.1],[0.221,0.479,0.09],[0.240,0.479,0.1],[0.210,0.471,0.08],[0.190,0.479,0.1],
  [0.171,0.473,0.1],[0.286,0.479,0.06],[0.298,0.467,0.09],[0.317,0.441,0.08],[0.344,0.471,0.07],[0.367,0.475,0.06],
  [0.382,0.488,0.05],[0.394,0.471,0.03],[0.398,0.445,0.01],[0.409,0.441,0.02],[0.386,0.445,0.03],[0.371,0.450,0.05],
  [0.359,0.492,0.05],[0.344,0.496,0.09],[0.313,0.496,0.1],[0.252,0.496,0.07],[0.424,0.496,0.03],[0.448,0.492,0.02],
  [0.482,0.488,0.01],
  [0.518,0.386,0.005],[0.516,0.450,0.01],[0.506,0.475,0.02],[0.534,0.518,0.01],[0.520,0.490,0.005],[0.505,0.460,0.01]
];

// axes, ticks and colour bars
const xRangeA = [0.037, 0.876];
const yRangeA = [-0.021, 0.879];
const xTicksA = [0.2, 0.4, 0.6, 0.8];
const yTicksA = [0.0, 0.1, 0.2, 0.3, 0.4, 0.5, 0.6, 0.7, 0.8];
const cbarRangeA = [0.0004, 0.1222];
const cbarTicksA = [0.02, 0.04, 0.06, 0.08, 0.10, 0.12];

const xRangeB = [-0.0334, 0.8645];
const yRangeB = [-0.0467, 1.0477];
const xTicksB = [0.0, 0.2, 0.4, 0.6, 0.8];
const yTicksB = [0.0, 0.2, 0.4, 0.6, 0.8, 1.0];
const cbarRangeB = [0.0007, 0.1287];
const cbarTicksB = [0.02, 0.04, 0.06, 0.08, 0.10, 0.12];

// reference lines
const diagA = [0.075, 0.835];       // y = x dashed line
const hLineA = 0.5;                 // proportion of mismatches = 0.5
const vLineB = 0.5;
const vLineBSpan = [-0.03, 1.025];

// legend of marker sizes
const legendAlphas = [0, 0.5, 1];
const legendLabels = ['0', '0.5', '1'];

// ---- helpers ----
const tickFont = { family: 'DejaVu Sans', size: 15 };
const ink = '#262626';

function grey(c, range, a) {
  let t = (c - range[0]) / (range[1] - range[0]);
  t = Math.max(0, Math.min(1, t));
  const g = Math.round(255 * t);
  return `rgba(${g},${g},${g},${a})`;
}

// marker radius from alpha (matplotlib-like area scaling)
function radiusFor(a) {
  return Math.sqrt(6.25 + 42.75 * a) / 2 - 0.5;
}

function fixedTicks(list) {
  return s => { s.ticks = list.map(v => ({ value: v })); };
}

function axis(range, ticks, decimals, fit) {
  return {
    type: 'linear',
    min: range[0],
    max: range[1],
    afterBuildTicks: fixedTicks(ticks),
    afterFit: fit,
    ticks: { font: tickFont, color: ink, padding: 6, autoSkip: false, maxRotation: 0,
             callback: v => Number(v).toFixed(decimals) },
    grid: { display: true, drawOnChartArea: false, drawTicks: true, tickLength: 5,
            color: '#333', tickColor: '#333', tickWidth: 1 },
    border: { display: false }
  };
}

const spines = {
  id: 'spines',
  afterDatasetsDraw(chart) {
    const { ctx, chartArea: a } = chart;
    ctx.save();
    ctx.strokeStyle = '#444';
    ctx.lineWidth = 1.2;
    ctx.strokeRect(a.left, a.top, a.right - a.left, a.bottom - a.top);
    ctx.restore();
  }
};

const sizeLegend = {
  id: 'sizeLegend',
  afterDraw(chart) {
    const { ctx, chartArea: a } = chart;
    const x0 = a.left + 8.5, y0 = a.top + 8;
    ctx.save();
    ctx.beginPath();
    ctx.roundRect(x0, y0, 100, 139, 4);
    ctx.fillStyle = 'rgba(255,255,255,0.85)';
    ctx.fill();
    ctx.strokeStyle = '#8a8a8a';
    ctx.lineWidth = 1.2;
    ctx.stroke();
    ctx.fillStyle = '#000';
    ctx.textBaseline = 'middle';
    ctx.textAlign = 'center';
    ctx.font = 'italic 24px "DejaVu Serif"';
    ctx.fillText('α', x0 + 50, y0 + 23);
    legendAlphas.forEach((al, i) => {
      const y = y0 + 53 + i * 31;
      ctx.beginPath();
      ctx.arc(x0 + 31, y, radiusFor(al) + 0.5, 0, Math.PI * 2);
      ctx.fillStyle = '#111';
      ctx.fill();
      ctx.font = '15px "DejaVu Sans"';
      ctx.textAlign = 'left';
      ctx.fillStyle = ink;
      ctx.fillText(legendLabels[i], x0 + 59, y);
    });
    ctx.restore();
  }
};

const gradientBar = {
  id: 'gradientBar',
  beforeDatasetsDraw(chart) {
    const { ctx, chartArea: a } = chart;
    const g = ctx.createLinearGradient(0, a.bottom, 0, a.top);
    g.addColorStop(0, '#000');
    g.addColorStop(1, '#fff');
    ctx.save();
    ctx.fillStyle = g;
    ctx.fillRect(a.left, a.top, a.right - a.left, a.bottom - a.top);
    ctx.strokeStyle = '#555';
    ctx.lineWidth = 1;
    ctx.strokeRect(a.left, a.top, a.right - a.left, a.bottom - a.top);
    ctx.restore();
  }
};

const base = {
  animation: false,
  responsive: false,
  events: [],
  plugins: { legend: { display: false }, tooltip: { enabled: false }, title: { display: false } }
};

function scatterSet(points, range, sizeOf) {
  return {
    data: points,
    pointRadius: ctx => sizeOf(ctx.raw),
    pointBackgroundColor: ctx => grey(ctx.raw.c, range, 0.8),
    pointBorderColor: ctx => grey(ctx.raw.c, range, 1),
    pointBorderWidth: 1,
    order: 3
  };
}

function dashedSet(data, color, width, dash, order) {
  return {
    data, showLine: true, fill: false, tension: 0,
    borderColor: color, borderWidth: width, borderDash: dash,
    pointRadius: 0, order
  };
}

// ---- panel A ----
new Chart(document.getElementById('chartA'), {
  type: 'scatter',
  data: {
    datasets: [
      scatterSet(pointsA.map(p => ({ x: p[0], y: p[1], a: p[2], c: p[3] })), cbarRangeA, r => radiusFor(r.a)),
      dashedSet(diagA.map(v => ({ x: v, y: v })), '#000', 2.5, [9, 4], 2),
      dashedSet(xRangeA.map(v => ({ x: v, y: hLineA })), 'rgba(255,0,0,0.5)', 3.3, [15, 11], 1)
    ]
  },
  options: {
    ...base,
    layout: { padding: { left: 40, right: 8, top: 84, bottom: 20 } },
    scales: {
      x: axis(xRangeA, xTicksA, 1, s => { s.height = 50; }),
      y: axis(yRangeA, yTicksA, 1, s => { s.width = 74; })
    }
  },
  plugins: [spines, sizeLegend]
});

// ---- panel B ----
new Chart(document.getElementById('chartB'), {
  type: 'scatter',
  data: {
    datasets: [
      scatterSet(pointsB.map(p => ({ x: p[0], y: p[1], c: p[2] })), cbarRangeB, () => 2.3),
      dashedSet(vLineBSpan.map(v => ({ x: vLineB, y: v })), 'rgba(255,0,0,0.5)', 3.3, [15, 11], 1)
    ]
  },
  options: {
    ...base,
    layout: { padding: { left: 42, right: 10, top: 84, bottom: 20 } },
    scales: {
      x: axis(xRangeB, xTicksB, 1, s => { s.height = 50; }),
      y: axis(yRangeB, yTicksB, 1, s => { s.width = 74; })
    }
  },
  plugins: [spines]
});

// ---- colour bars ----
function colourBar(id, range, ticks, padLeft, axisWidth) {
  const y = axis(range, ticks, 2, s => { s.width = axisWidth; });
  y.position = 'right';
  y.ticks.padding = 5;
  new Chart(document.getElementById(id), {
    type: 'scatter',
    data: { datasets: [] },
    options: {
      ...base,
      layout: { padding: { left: padLeft, right: 0, top: 84, bottom: 70 } },
      scales: {
        x: { display: false, min: 0, max: 1 },
        y
      }
    },
    plugins: [gradientBar]
  });
}

colourBar('cbarA', cbarRangeA, cbarTicksA, 16, 63);
colourBar('cbarB', cbarRangeB, cbarTicksB, 19, 68);
</script>
</body>
</html>
